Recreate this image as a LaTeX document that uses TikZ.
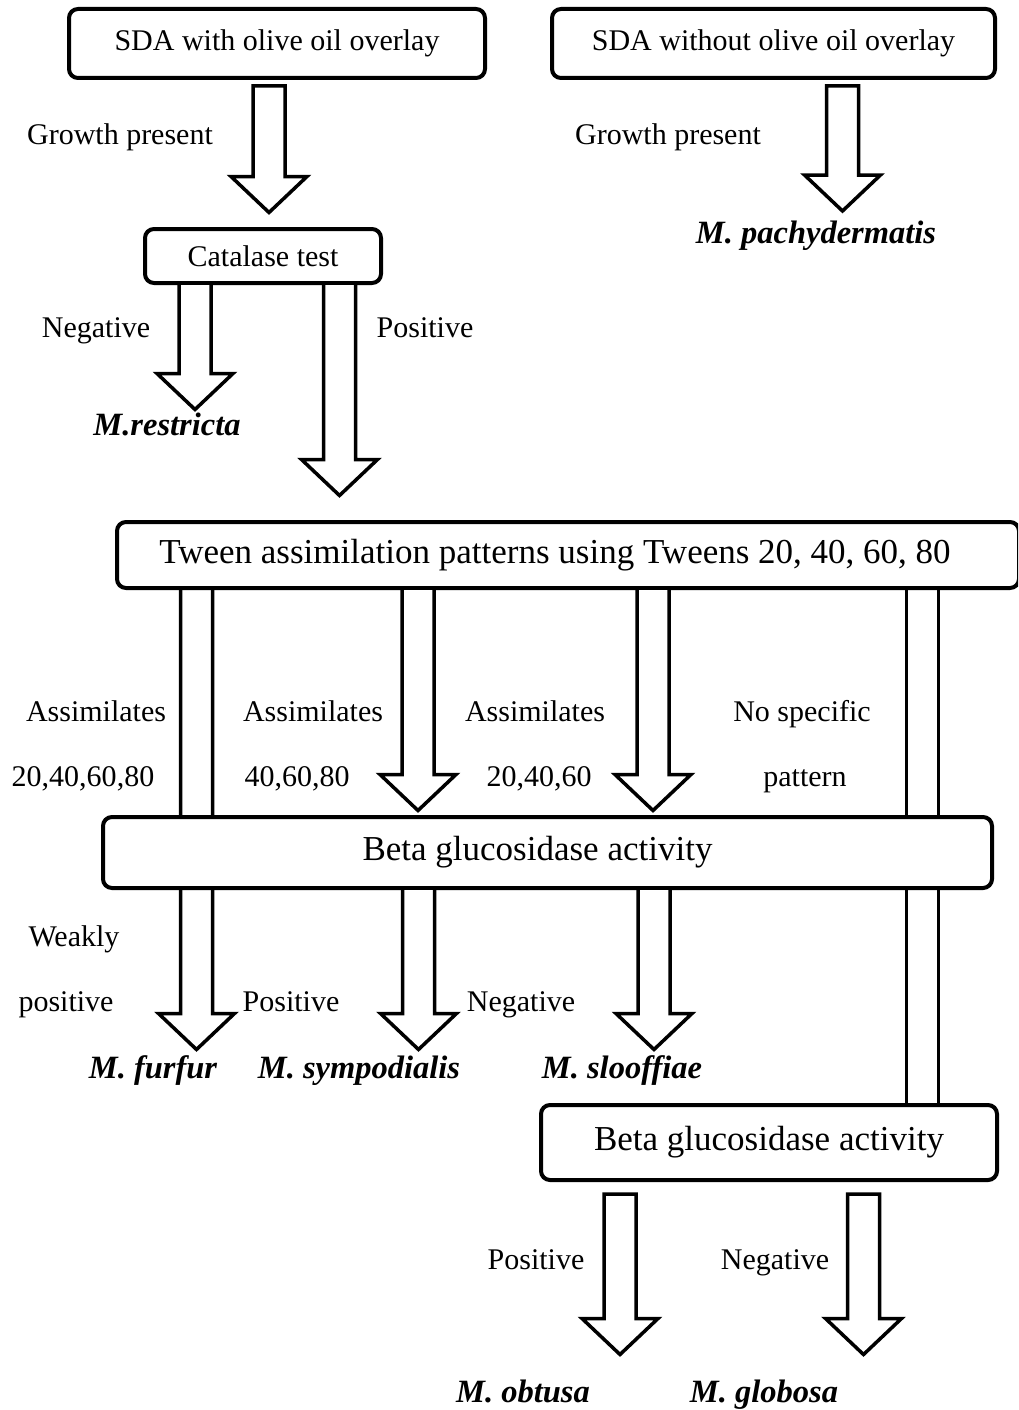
\documentclass[tikz,border=0pt]{standalone}
\usepackage{fontspec}
\setmainfont{Liberation Serif}
\usetikzlibrary{calc,backgrounds}

\tikzset{
  box/.style={rectangle,draw,line width=4pt,rounded corners=9pt,fill=white,
    inner sep=0pt,outer sep=0pt,font=\fontsize{30}{36}\selectfont},
  bigbox/.style={box,font=\fontsize{35}{42}\selectfont},
  lbl/.style={inner sep=0pt,text height=0.7em,text depth=0.2em,yshift=-7pt,font=\fontsize{30}{36}\selectfont},
  taxon/.style={inner sep=0pt,text height=0.7em,text depth=0.2em,yshift=-8pt,font=\fontsize{32.5}{39}\selectfont\bfseries\itshape},
  fat/.style={draw,line width=3.5pt,fill=white,line join=miter},
}
% hollow block arrow: #1 gives the top, #2 the tip
\newcommand{\fatarrow}[2]{%
  \draw[fat] let \p1=(#1), \p2=(#2) in
    (\x2-16pt,\y1) -- (\x2-16pt,\y2+36pt) -- (\x2-38pt,\y2+36pt) -- (\x2,\y2)
    -- (\x2+38pt,\y2+36pt) -- (\x2+16pt,\y2+36pt) -- (\x2+16pt,\y1) -- cycle;}

\begin{document}
\begin{tikzpicture}[x=1pt,y=-1pt]
 \path[use as bounding box,clip] (0,0) rectangle (1018,1410);

 % boxes
 \node (sdaoil)  [box,minimum width=416,minimum height=69] at (277,43.5) {SDA with olive oil overlay};
 \node (sdanone) [box,minimum width=443,minimum height=69] at (773.5,43.5) {SDA without olive oil overlay};
 \node (cat)     [box,minimum width=236,minimum height=54] at (263,256) {Catalase test};
 \node (tween)   [bigbox,minimum width=902,minimum height=66] at (568,555) {Tween assimilation patterns using Tweens 20, 40, 60, 80\hspace*{26pt}};
 \node (betaA)   [bigbox,minimum width=889,minimum height=71] at (547.5,852.5) {Beta glucosidase activity\hspace*{20pt}};
 \node (betaB)   [bigbox,minimum width=456,minimum height=75] at (769,1142.5) {Beta glucosidase activity};

 % arrow tips
 \coordinate (tipoil)   at (269,212.5);
 \coordinate (tipnone)  at (842.5,211);
 \coordinate (tipneg)   at (195,409.5);
 \coordinate (tippos)   at (339.5,495.5);
 \coordinate (tipfur)   at (196.5,1049.5);
 \coordinate (tipfour)  at (418,810.5);
 \coordinate (tiptwo)   at (653,810.5);
 \coordinate (tipsym)   at (418.5,1049.5);
 \coordinate (tipsloo)  at (654,1049.5);
 \coordinate (tipobt)   at (620,1354.5);
 \coordinate (tipglo)   at (863.5,1354.5);

 % shafts running behind the first beta glucosidase box
 \begin{pgfonlayer}{background}
  \fatarrow{tween.south}{tipfur}
  \draw[fat] ($(tween.south -| 922.5,0)+(-16,0)$) rectangle ($(betaB.north -| 922.5,0)+(16,0)$);
 \end{pgfonlayer}

 \fatarrow{$(sdaoil.south)+(0,8)$}{tipoil}
 \fatarrow{$(sdanone.south)+(0,8)$}{tipnone}
 \fatarrow{cat.south}{tipneg}
 \fatarrow{cat.south}{tippos}
 \fatarrow{tween.south}{tipfour}
 \fatarrow{tween.south}{tiptwo}
 \fatarrow{betaA.south}{tipsym}
 \fatarrow{betaA.south}{tipsloo}
 \fatarrow{$(betaB.south)+(0,14)$}{tipobt}
 \fatarrow{$(betaB.south)+(0,14)$}{tipglo}

 % labels
 \node (grow1)  [lbl] at (120,135) {Growth present};
 \node (grow2)  [lbl] at (668,135) {Growth present};
 \node (pachy)  [taxon] at (816,233) {M. pachydermatis};
 \node (neg1)   [lbl] at (96,328) {Negative};
 \node (pos1)   [lbl] at (425,328) {Positive};
 \node (restr)  [taxon] at (167,425) {M.restricta};

 \node (as1)   [lbl] at (96,712) {Assimilates};
 \node (as2)   [lbl] at (313,712) {Assimilates};
 \node (as3)   [lbl] at (535,712) {Assimilates};
 \node (nospec)[lbl] at (802,712) {No specific};
 \node (tw1)   [lbl] at (83,777) {20,40,60,80};
 \node (tw2)   [lbl] at (297,777) {40,60,80};
 \node (tw3)   [lbl] at (539,777) {20,40,60};
 \node (patt)  [lbl] at (805,777) {pattern};

 \node (weak)  [lbl] at (74,937) {Weakly};
 \node (weak2) [lbl] at (66,1002) {positive};
 \node (pos2)  [lbl] at (291,1002) {Positive};
 \node (neg2)  [lbl] at (521,1002) {Negative};
 \node (furf)  [taxon] at (153,1068) {M. furfur};
 \node (symp)  [taxon] at (359,1068) {M. sympodialis};
 \node (sloo)  [taxon] at (622,1068) {M. slooffiae};

 \node (pos3)  [lbl] at (536,1260) {Positive};
 \node (neg3)  [lbl] at (775,1260) {Negative};
 \node (obt)   [taxon] at (523,1392) {M. obtusa};
 \node (glo)   [taxon] at (764,1392) {M. globosa};
\end{tikzpicture}
\end{document}
